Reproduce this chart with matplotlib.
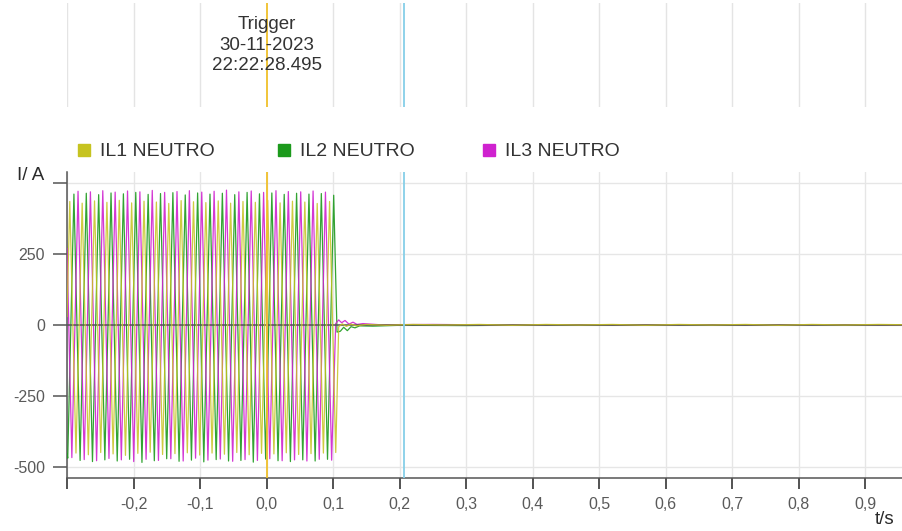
import matplotlib
matplotlib.use("Agg")
import matplotlib.pyplot as plt
from matplotlib.patches import Rectangle

plt.rcParams["font.family"] = ["Liberation Sans", "DejaVu Sans"]

# ---- data read from the recording (t in s, I in A) ----
# IL1 NEUTRO: start value, then half-cycle extremes, then the tail after the trip
t_il1 = [-0.3000,
         -0.2958, -0.2865, -0.2772, -0.2679, -0.2586, -0.2493, -0.2400, -0.2307, -0.2214, -0.2121,
         -0.2028, -0.1935, -0.1842, -0.1749, -0.1656, -0.1563, -0.1470, -0.1377, -0.1284, -0.1191,
         -0.1098, -0.1005, -0.0912, -0.0819, -0.0726, -0.0633, -0.0540, -0.0447, -0.0354, -0.0261,
         -0.0168, -0.0075, 0.0018, 0.0111, 0.0204, 0.0297, 0.0390, 0.0483, 0.0576, 0.0669,
         0.0762, 0.0855, 0.0948, 0.1041,
         0.1085, 0.1140, 0.1200, 0.1270, 0.1350, 0.1500, 0.1800, 0.2200, 0.2700, 0.3200,
         0.3700, 0.4200, 0.4700, 0.5200, 0.5700, 0.6200, 0.6700, 0.7200, 0.7700, 0.8200,
         0.8700, 0.9200, 0.9570]
i_il1 = [30,
         436, -452, 430, -458, 438, -450, 433, -455, 440, -460,
         431, -453, 437, -449, 434, -457, 429, -454, 439, -451,
         435, -459, 432, -452, 438, -456, 430, -450, 436, -458,
         433, -453, 440, -455, 431, -451, 437, -457, 434, -454,
         429, -452, 436, -450,
         -6, 4, -5, 3, -3, 2, -1, 2, 0, 2,
         -1, 2, 0, 2, -1, 2, 0, 2, -1, 2,
         0, 2, 1]

# IL2 NEUTRO
t_il2 = [-0.3000,
         -0.2989, -0.2896, -0.2803, -0.2710, -0.2617, -0.2524, -0.2431, -0.2338, -0.2245, -0.2152,
         -0.2059, -0.1966, -0.1873, -0.1780, -0.1687, -0.1594, -0.1501, -0.1408, -0.1315, -0.1222,
         -0.1129, -0.1036, -0.0943, -0.0850, -0.0757, -0.0664, -0.0571, -0.0478, -0.0385, -0.0292,
         -0.0199, -0.0106, -0.0013, 0.0080, 0.0173, 0.0266, 0.0359, 0.0452, 0.0545, 0.0638,
         0.0731, 0.0824, 0.0917, 0.1010,
         0.1060, 0.1110, 0.1160, 0.1215, 0.1270, 0.1330, 0.1400, 0.1600, 0.2000, 0.3000,
         0.4000, 0.5000, 0.6000, 0.7000, 0.8000, 0.9570]
i_il2 = [-455,
         -470, 462, -478, 465, -482, 460, -476, 466, -480, 463,
         -474, 468, -485, 461, -479, 464, -472, 467, -481, 459,
         -477, 466, -483, 462, -475, 465, -480, 460, -478, 468,
         -484, 463, -473, 466, -479, 461, -482, 465, -476, 462,
         -480, 464, -474, 458,
         -25, -22, -8, -20, -6, -10, -3, -4, -1, -2,
         0, -1, 0, -1, 0, 0]

# IL3 NEUTRO
t_il3 = [-0.3000,
         -0.2927, -0.2834, -0.2741, -0.2648, -0.2555, -0.2462, -0.2369, -0.2276, -0.2183, -0.2090,
         -0.1997, -0.1904, -0.1811, -0.1718, -0.1625, -0.1532, -0.1439, -0.1346, -0.1253, -0.1160,
         -0.1067, -0.0974, -0.0881, -0.0788, -0.0695, -0.0602, -0.0509, -0.0416, -0.0323, -0.0230,
         -0.0137, -0.0044, 0.0049, 0.0142, 0.0235, 0.0328, 0.0421, 0.0514, 0.0607, 0.0700,
         0.0793, 0.0886, 0.0979,
         0.1040, 0.1085, 0.1130, 0.1180, 0.1240, 0.1300, 0.1360, 0.1450, 0.1700, 0.2500,
         0.3500, 0.4500, 0.5500, 0.6500, 0.7500, 0.8500, 0.9570]
i_il3 = [270,
         -468, 472, -475, 470, -479, 474, -471, 469, -476, 473,
         -482, 470, -474, 475, -478, 468, -472, 471, -480, 474,
         -470, 469, -477, 472, -473, 476, -481, 470, -475, 473,
         -478, 468, -472, 474, -479, 471, -476, 470, -480, 473,
         -474, 469, -477,
         5, 18, 8, 16, 3, 10, 2, 5, 1, 2,
         0, 1, 0, 1, 0, 1, 0]

series_names = ["IL1 NEUTRO", "IL2 NEUTRO", "IL3 NEUTRO"]
series_colors = ["#c6c320", "#1c9a1c", "#cf22cf"]

trigger_t = 0.0
cursor_t = 0.206
trigger_text = "Trigger\n30-11-2023\n22:22:28.495"

x_ticks = [-0.3, -0.2, -0.1, 0.0, 0.1, 0.2, 0.3, 0.4, 0.5, 0.6, 0.7, 0.8, 0.9]
x_labels = ["", "-0,2", "-0,1", "0,0", "0,1", "0,2", "0,3", "0,4", "0,5", "0,6", "0,7", "0,8", "0,9"]
y_ticks = [-500, -250, 0, 250, 500]
y_labels = ["-500", "-250", "0", "250", ""]

W, H = 903, 531


def fx(x):
    return x / W


def fy(y):
    return 1 - y / H


fig = plt.figure(figsize=(W / 100, H / 100), dpi=100)

# top strip with the trigger marker
ax_top = fig.add_axes([fx(67), fy(107), fx(903 - 67), 104 / H])
ax_top.set_xlim(-0.3, 0.957)
ax_top.set_ylim(0, 1)
ax_top.axis("off")
for xt in x_ticks:
    if xt != trigger_t:
        ax_top.axvline(xt, color="#e4e4e4", lw=1)
ax_top.axvline(trigger_t, color="#f0c02a", lw=1.3)
ax_top.axvline(cursor_t, color="#86cfe8", lw=1.3)
fig.text(fx(267), fy(45), trigger_text, ha="center", va="center",
         fontsize=13.5, color="#333333", linespacing=1.25)

# main plot
ax = fig.add_axes([fx(67), fy(478), fx(903 - 67), (478 - 172) / H])
ax.set_xlim(-0.3, 0.957)
ax.set_ylim(-540, 540)

ax.plot(t_il1, i_il1, color=series_colors[0], lw=0.9, alpha=0.85, zorder=5)
ax.plot(t_il2, i_il2, color=series_colors[1], lw=0.9, alpha=0.9, zorder=3)
ax.plot(t_il3, i_il3, color=series_colors[2], lw=0.9, alpha=0.9, zorder=3.5)

ax.axhline(0, color="#555555", lw=1.1, zorder=4)
ax.axvline(trigger_t, color="#f0c02a", lw=1.3, zorder=6)
ax.axvline(cursor_t, color="#86cfe8", lw=1.3, zorder=6)

ax.set_xticks(x_ticks)
ax.set_xticklabels(x_labels)
ax.set_yticks(y_ticks)
ax.set_yticklabels(y_labels)
ax.grid(True, color="#e6e6e6", lw=1)
ax.set_axisbelow(True)
ax.tick_params(axis="x", direction="out", length=8, width=1.3, color="#444444",
               labelsize=11.5, labelcolor="#5a5a5a", pad=6)
ax.tick_params(axis="y", direction="out", length=10, width=1.1, color="#555555",
               labelsize=11.5, labelcolor="#5a5a5a", pad=6)
for side in ["top", "right"]:
    ax.spines[side].set_visible(False)
for side in ["left", "bottom"]:
    ax.spines[side].set_color("#555555")
    ax.spines[side].set_linewidth(1.1)

fig.text(fx(17), fy(176), "I/ A", ha="left", va="center", fontsize=13.5, color="#2a2a2a")
fig.text(fx(885), fy(520), "t/s", ha="center", va="center", fontsize=13.5, color="#2a2a2a")

# legend
legend_x = [78, 278, 483]
for lx, name, col in zip(legend_x, series_names, series_colors):
    fig.patches.append(Rectangle((fx(lx), fy(156)), 12 / W, 12 / H,
                                 transform=fig.transFigure, color=col))
    fig.text(fx(lx + 22), fy(151), name, ha="left", va="center",
             fontsize=14, color="#333333")

fig.savefig("out.png", dpi=100)
